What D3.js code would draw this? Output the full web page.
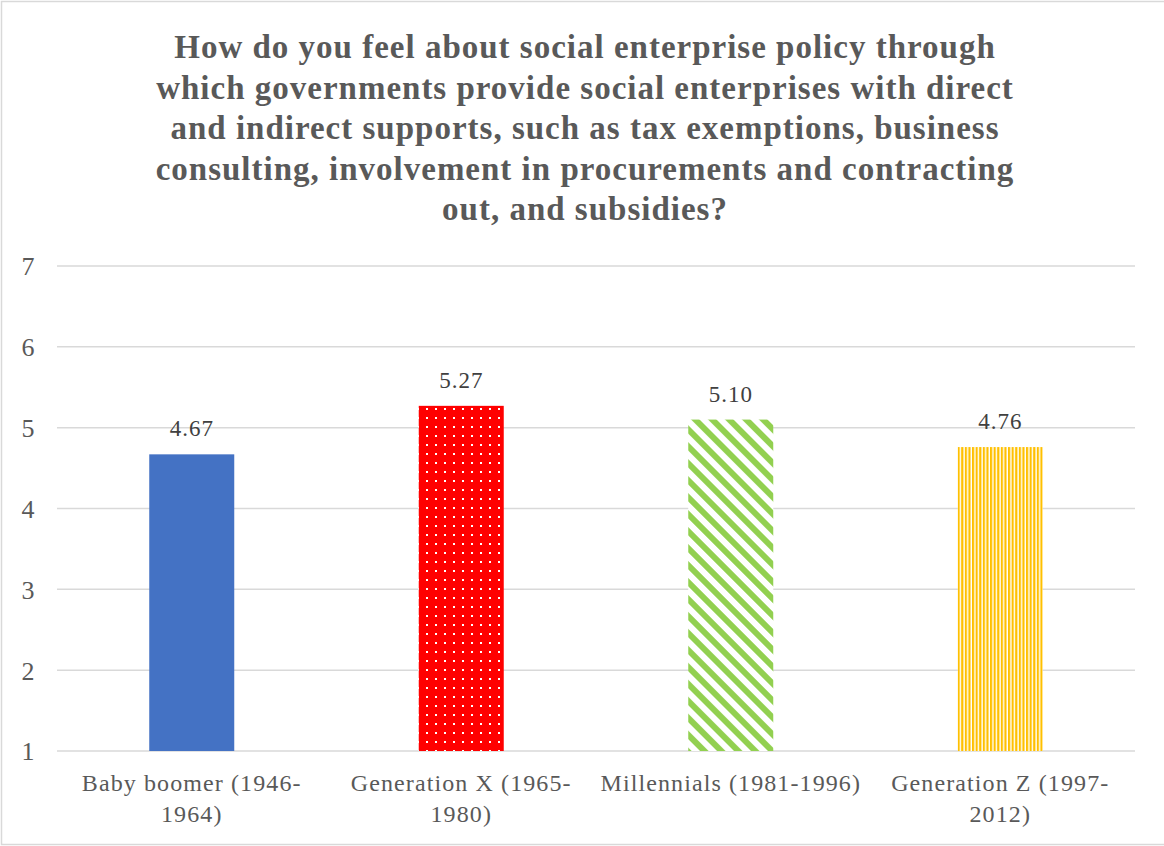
<!DOCTYPE html>
<html>
<head>
<meta charset="utf-8">
<script src="https://cdn.jsdelivr.net/npm/d3@7/dist/d3.min.js"></script>
<style>
  html, body { margin: 0; padding: 0; background: #fff; }
  svg { display: block; }
  text { font-family: "Liberation Serif", "Times New Roman", serif; }
</style>
</head>
<body>
<svg id="chart" width="1164" height="846"></svg>
<script>
// Survey result: mean score by generation
const titleLines = [
  "How do you feel about social enterprise policy through",
  "which governments provide social enterprises with direct",
  "and indirect supports, such as tax exemptions, business",
  "consulting, involvement in procurements and contracting",
  "out, and subsidies?"
];
const categories = [
  ["Baby boomer (1946-", "1964)"],
  ["Generation X (1965-", "1980)"],
  ["Millennials (1981-1996)"],
  ["Generation Z (1997-", "2012)"]
];
const values = [4.67, 5.27, 5.10, 4.76];
const valueLabels = ["4.67", "5.27", "5.10", "4.76"];
const yTicks = [1, 2, 3, 4, 5, 6, 7];

const W = 1164, H = 846;
const svg = d3.select("#chart");

// Outer frame
svg.append("rect")
  .attr("x", 1.5).attr("y", 1.5)
  .attr("width", W + 10).attr("height", H - 3)
  .attr("fill", "#fff").attr("stroke", "#d9d9d9").attr("stroke-width", 1.5);

// Fill patterns
const defs = svg.append("defs");

// red with white dots
const pDots = defs.append("pattern")
  .attr("id", "pat-dots").attr("patternUnits", "userSpaceOnUse")
  .attr("width", 9).attr("height", 9);
pDots.append("rect").attr("width", 9).attr("height", 9).attr("fill", "#FF0000");
pDots.append("rect").attr("x", 3).attr("y", 3).attr("width", 2).attr("height", 2).attr("fill", "#fff");

// green wide downward diagonal
const pDiag = defs.append("pattern")
  .attr("id", "pat-diag").attr("patternUnits", "userSpaceOnUse")
  .attr("width", 12).attr("height", 12)
  .attr("patternTransform", "rotate(-45)");
pDiag.append("rect").attr("width", 12).attr("height", 12).attr("fill", "#fff");
pDiag.append("rect").attr("width", 6).attr("height", 12).attr("fill", "#92D050");

// gold vertical stripes
const pVert = defs.append("pattern")
  .attr("id", "pat-vert").attr("patternUnits", "userSpaceOnUse")
  .attr("width", 3.6).attr("height", 10);
pVert.append("rect").attr("width", 3.6).attr("height", 10).attr("fill", "#fff");
pVert.append("rect").attr("width", 2.2).attr("height", 10).attr("fill", "#FFC000");

const fills = ["#4472C4", "url(#pat-dots)", "url(#pat-diag)", "url(#pat-vert)"];

// Scales
const x = d3.scaleBand()
  .domain(d3.range(categories.length))
  .range([57, 1135])
  .paddingInner(0.6846)
  .paddingOuter(0.3423);
const y = d3.scaleLinear().domain([1, 7]).range([751, 266]);

// Title
const title = svg.append("text")
  .attr("text-anchor", "middle")
  .attr("font-size", 33).attr("font-weight", "bold").attr("fill", "#595959")
  .attr("letter-spacing", 1);
titleLines.forEach((t, i) => {
  title.append("tspan").attr("x", 585).attr("y", 58 + i * 40.5).text(t);
});

// Gridlines
svg.append("g")
  .selectAll("line").data(yTicks).join("line")
  .attr("x1", 57).attr("x2", 1135)
  .attr("y1", d => y(d)).attr("y2", d => y(d))
  .attr("stroke", "#d9d9d9").attr("stroke-width", 1.5);

// Y axis labels
const yAxis = d3.axisLeft(y).tickValues(yTicks).tickSize(0).tickPadding(0).tickFormat(d3.format("d"));
const gy = svg.append("g").attr("transform", "translate(28,0)").call(yAxis);
gy.select(".domain").remove();
gy.selectAll("text")
  .attr("font-family", "Liberation Serif, Times New Roman, serif")
  .attr("font-size", 26).attr("fill", "#595959")
  .attr("text-anchor", "middle").attr("x", 0).attr("dy", "0.34em");

// Bars
svg.append("g")
  .selectAll("rect").data(values).join("rect")
  .attr("x", (d, i) => x(i)).attr("width", x.bandwidth())
  .attr("y", d => y(d)).attr("height", d => y(1) - y(d))
  .attr("fill", (d, i) => fills[i]);

// Value labels
svg.append("g")
  .selectAll("text").data(values).join("text")
  .attr("x", (d, i) => x(i) + x.bandwidth() / 2)
  .attr("y", d => y(d) - 18)
  .attr("text-anchor", "middle")
  .attr("font-size", 23).attr("letter-spacing", 1).attr("fill", "#404040")
  .text((d, i) => valueLabels[i]);

// Category labels
const gx = svg.append("g");
categories.forEach((lines, i) => {
  const t = gx.append("text")
    .attr("text-anchor", "middle")
    .attr("font-size", 24).attr("letter-spacing", 1.1).attr("fill", "#595959");
  lines.forEach((ln, j) => {
    t.append("tspan")
      .attr("x", x(i) + x.bandwidth() / 2)
      .attr("y", 791 + j * 31)
      .text(ln);
  });
});
</script>
</body>
</html>
